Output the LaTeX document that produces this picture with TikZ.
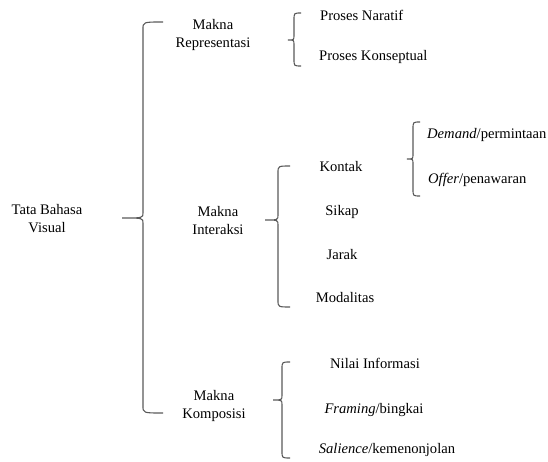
\documentclass[tikz,border=0pt]{standalone}
\usepackage{fontspec}
\setmainfont{Liberation Serif}
\tikzset{
  every node/.style={font=\fontsize{14.6}{18}\selectfont, inner sep=0pt},
  brace/.style={draw=black!65, line width=1.1pt},
  twoline/.style={align=center}
}
% #1 x of the spine, #2 top, #3 bottom, #4 y of the tip, #5 x of the tip, #6 x of the hooks
\newcommand{\wordbrace}[6]{%
  \draw[brace] (#6,#2) .. controls (#1,#2) .. (#1,#2+7) -- (#1,#4-5)
    .. controls (#1,#4) .. (#5,#4) .. controls (#1,#4) .. (#1,#4+5)
    -- (#1,#3-7) .. controls (#1,#3) .. (#6,#3);}

\begin{document}
\begin{tikzpicture}[x=1pt, y=-1pt]
  \useasboundingbox (0,0) rectangle (548,462);

  % first level
  \node[twoline] (tbv) at (47,219) {Tata Bahasa\\Visual};
  \node[twoline] (repr) at (213,35) {Makna\\Representasi};
  \node[twoline] (inter) at (218,221) {Makna\\Interaksi};
  \node[twoline] (komp) at (214,406) {Makna\\Komposisi};
  \wordbrace{143}{22}{413}{218}{122}{163}

  % representasi
  \node[anchor=west] (naratif) at (320,15) {Proses Naratif};
  \node[anchor=west] (konsep) at (319,57) {Proses Konseptual};
  \wordbrace{294}{13}{66}{40}{288}{301}

  % interaksi
  \node (kontak) at (341,167) {Kontak};
  \node (sikap) at (342,212) {Sikap};
  \node (jarak) at (342,255) {Jarak};
  \node (modal) at (345,298) {Modalitas};
  \wordbrace{278}{166}{307}{220}{265}{290}

  % kontak
  \node[anchor=west] (demand) at (427,135) {\textit{Demand}/permintaan};
  \node[anchor=west] (offer) at (428,180) {\textit{Offer}/penawaran};
  \wordbrace{413}{122}{196}{159}{407}{420}

  % komposisi
  \node (nilai) at (375,363) {Nilai Informasi};
  \node (framing) at (374,410) {\textit{Framing}/bingkai};
  \node (salience) at (387,450) {\textit{Salience}/kemenonjolan};
  \wordbrace{282}{362}{458}{400}{273}{290}
\end{tikzpicture}
\end{document}
